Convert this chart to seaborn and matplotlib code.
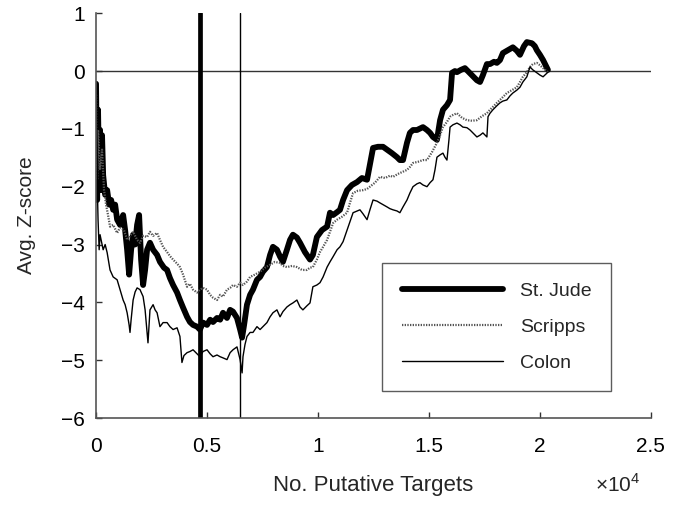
import matplotlib
matplotlib.use("Agg")
import matplotlib.pyplot as plt
import seaborn as sns
import pandas as pd

# ---- data (x in units of 10^4 putative targets) ----
stjude_x = [0.000, 0.005, 0.009, 0.014, 0.018, 0.023, 0.027, 0.032, 0.041, 0.050, 0.059, 0.068, 0.077, 0.086, 0.095,
            0.108, 0.122, 0.131, 0.140, 0.149, 0.158, 0.167, 0.176, 0.185, 0.194, 0.203, 0.212, 0.221, 0.230, 0.243,
            0.257, 0.275, 0.288, 0.306, 0.320, 0.333, 0.347, 0.365, 0.378, 0.392, 0.410, 0.423, 0.437, 0.455, 0.468,
            0.482, 0.500, 0.514, 0.527, 0.545, 0.559, 0.572, 0.590, 0.604, 0.617, 0.635, 0.649, 0.658, 0.667, 0.680,
            0.694, 0.707, 0.725, 0.739, 0.752, 0.770, 0.784, 0.797, 0.815, 0.829, 0.842, 0.860, 0.874, 0.887, 0.905,
            0.919, 0.941, 0.964, 0.977, 0.995, 1.018, 1.041, 1.054, 1.068, 1.086, 1.099, 1.113, 1.131, 1.153, 1.176,
            1.198, 1.221, 1.234, 1.248, 1.270, 1.293, 1.311, 1.333, 1.356, 1.369, 1.383, 1.401, 1.414, 1.428, 1.446,
            1.473, 1.491, 1.505, 1.518, 1.536, 1.550, 1.563, 1.581, 1.595, 1.604, 1.617, 1.626, 1.644, 1.662, 1.680,
            1.698, 1.716, 1.730, 1.743, 1.761, 1.775, 1.793, 1.806, 1.820, 1.833, 1.856, 1.878, 1.896, 1.910, 1.928,
            1.941, 1.964, 1.977, 1.986, 2.000, 2.014, 2.027, 2.036]
stjude_y = [-0.22, -2.23, -0.67, -1.88, -1.02, -2.06, -1.11, -1.80, -2.14, -2.06, -2.31, -2.23, -2.40, -2.31, -2.57,
            -2.66, -2.49, -2.75, -3.09, -3.52, -3.09, -2.83, -3.00, -2.66, -2.49, -3.26, -3.70, -3.44, -3.09, -2.97,
            -3.09, -3.18, -3.30, -3.40, -3.44, -3.58, -3.70, -3.83, -3.96, -4.09, -4.25, -4.34, -4.39, -4.42, -4.47,
            -4.35, -4.39, -4.30, -4.34, -4.27, -4.30, -4.18, -4.27, -4.13, -4.16, -4.27, -4.47, -4.61, -4.39, -4.04,
            -3.87, -3.78, -3.61, -3.56, -3.47, -3.39, -3.18, -3.04, -3.09, -3.21, -3.30, -3.09, -2.92, -2.83, -2.88,
            -2.97, -3.13, -3.26, -3.18, -2.87, -2.75, -2.69, -2.45, -2.49, -2.44, -2.40, -2.23, -2.06, -1.97, -1.92,
            -1.85, -1.88, -1.62, -1.33, -1.31, -1.31, -1.36, -1.42, -1.49, -1.54, -1.54, -1.24, -1.07, -1.02, -1.02,
            -0.97, -1.02, -1.07, -1.14, -1.19, -0.85, -0.67, -0.59, -0.50, -0.03, 0.00, -0.02, 0.02, 0.05, -0.02,
            -0.09, -0.16, -0.19, -0.07, 0.12, 0.12, 0.16, 0.14, 0.19, 0.31, 0.36, 0.41, 0.35, 0.28, 0.43,
            0.50, 0.48, 0.43, 0.36, 0.28, 0.19, 0.09, 0.02]

scripps_x = [0.000, 0.005, 0.009, 0.018, 0.027, 0.036, 0.045, 0.054, 0.063, 0.077, 0.095, 0.108, 0.126, 0.140, 0.153,
             0.167, 0.185, 0.198, 0.212, 0.230, 0.243, 0.257, 0.275, 0.288, 0.302, 0.320, 0.333, 0.347, 0.365, 0.378,
             0.392, 0.410, 0.423, 0.437, 0.455, 0.468, 0.482, 0.500, 0.514, 0.527, 0.545, 0.559, 0.572, 0.590, 0.604,
             0.617, 0.635, 0.649, 0.662, 0.680, 0.694, 0.716, 0.739, 0.761, 0.784, 0.806, 0.829, 0.842, 0.860, 0.883,
             0.905, 0.928, 0.950, 0.964, 0.977, 0.995, 1.009, 1.023, 1.041, 1.054, 1.068, 1.086, 1.108, 1.131, 1.144,
             1.158, 1.180, 1.203, 1.221, 1.234, 1.257, 1.279, 1.302, 1.324, 1.338, 1.360, 1.383, 1.401, 1.414, 1.428,
             1.450, 1.473, 1.491, 1.514, 1.536, 1.550, 1.563, 1.581, 1.595, 1.608, 1.626, 1.649, 1.671, 1.694, 1.716,
             1.739, 1.761, 1.775, 1.788, 1.806, 1.820, 1.833, 1.851, 1.874, 1.896, 1.910, 1.923, 1.941, 1.955, 1.968,
             1.986, 2.000, 2.014, 2.036]
scripps_y = [-0.41, -1.88, -1.02, -1.71, -1.36, -2.06, -2.31, -2.49, -2.69, -2.66, -2.80, -2.71, -2.75, -2.92, -2.85,
             -2.78, -2.92, -2.97, -2.85, -2.87, -2.78, -2.85, -2.80, -2.92, -3.04, -3.13, -3.20, -3.26, -3.33, -3.39,
             -3.52, -3.73, -3.68, -3.78, -3.83, -3.78, -3.75, -3.78, -3.87, -3.92, -3.96, -3.87, -3.90, -3.78, -3.75,
             -3.70, -3.73, -3.66, -3.70, -3.64, -3.56, -3.52, -3.47, -3.40, -3.35, -3.30, -3.32, -3.37, -3.39, -3.37,
             -3.39, -3.44, -3.44, -3.40, -3.39, -3.26, -3.13, -3.04, -2.92, -2.78, -2.63, -2.57, -2.52, -2.45, -2.28,
             -2.11, -2.07, -2.06, -2.04, -2.00, -1.93, -1.83, -1.85, -1.81, -1.83, -1.78, -1.74, -1.71, -1.66, -1.59,
             -1.57, -1.54, -1.54, -1.40, -1.24, -1.11, -0.97, -0.88, -0.79, -0.76, -0.73, -0.81, -0.85, -0.86, -0.85,
             -0.78, -0.73, -0.67, -0.62, -0.55, -0.50, -0.45, -0.38, -0.33, -0.28, -0.19, -0.10, -0.02, 0.07, 0.12,
             0.14, 0.10, 0.05, -0.02]

colon_x = [0.000, 0.005, 0.007, 0.009, 0.014, 0.018, 0.023, 0.032, 0.041, 0.050, 0.063, 0.077, 0.095, 0.108, 0.122,
           0.131, 0.140, 0.149, 0.153, 0.158, 0.167, 0.176, 0.185, 0.198, 0.212, 0.221, 0.230, 0.234, 0.243, 0.257,
           0.266, 0.275, 0.288, 0.302, 0.320, 0.333, 0.347, 0.365, 0.378, 0.387, 0.396, 0.410, 0.423, 0.437, 0.455,
           0.468, 0.482, 0.500, 0.514, 0.527, 0.545, 0.559, 0.572, 0.590, 0.604, 0.617, 0.635, 0.649, 0.658, 0.662,
           0.671, 0.680, 0.694, 0.707, 0.725, 0.739, 0.752, 0.770, 0.784, 0.797, 0.815, 0.829, 0.842, 0.860, 0.874,
           0.887, 0.905, 0.919, 0.932, 0.950, 0.964, 0.977, 0.995, 1.009, 1.023, 1.041, 1.054, 1.068, 1.086, 1.099,
           1.113, 1.131, 1.144, 1.158, 1.176, 1.189, 1.203, 1.221, 1.234, 1.248, 1.266, 1.279, 1.293, 1.311, 1.324,
           1.338, 1.356, 1.369, 1.383, 1.401, 1.414, 1.428, 1.446, 1.459, 1.473, 1.491, 1.505, 1.518, 1.527, 1.536,
           1.550, 1.563, 1.572, 1.581, 1.590, 1.595, 1.608, 1.626, 1.640, 1.653, 1.671, 1.685, 1.698, 1.716, 1.730,
           1.743, 1.761, 1.766, 1.775, 1.788, 1.806, 1.820, 1.833, 1.851, 1.865, 1.878, 1.896, 1.910, 1.923, 1.941,
           1.955, 1.968, 1.986, 2.000, 2.014, 2.036]
colon_y = [-0.26, -1.36, -2.23, -2.57, -3.09, -2.83, -2.92, -3.09, -3.00, -3.14, -3.44, -3.56, -3.61, -3.78, -3.96,
           -4.04, -4.18, -4.39, -4.52, -4.30, -3.96, -3.82, -3.75, -3.78, -3.90, -4.13, -4.52, -4.70, -4.13, -4.04,
           -4.13, -4.18, -4.42, -4.35, -4.35, -4.42, -4.47, -4.44, -4.59, -5.04, -4.92, -4.87, -4.85, -4.82, -4.89,
           -4.94, -4.85, -4.82, -4.89, -4.94, -4.91, -4.94, -4.96, -4.99, -4.87, -4.82, -4.77, -4.99, -5.22, -4.94,
           -4.73, -4.59, -4.52, -4.52, -4.42, -4.47, -4.42, -4.35, -4.25, -4.18, -4.13, -4.25, -4.16, -4.08, -4.04,
           -4.01, -3.96, -4.08, -4.13, -4.06, -4.01, -3.73, -3.70, -3.66, -3.56, -3.39, -3.30, -3.21, -3.09, -3.04,
           -2.95, -2.75, -2.61, -2.45, -2.42, -2.40, -2.47, -2.57, -2.40, -2.23, -2.25, -2.28, -2.31, -2.35, -2.38,
           -2.40, -2.42, -2.45, -2.35, -2.23, -2.11, -2.00, -1.95, -1.93, -1.97, -2.00, -1.93, -1.88, -1.71, -1.49,
           -1.45, -1.42, -1.49, -1.54, -1.19, -0.97, -0.93, -0.90, -0.93, -0.97, -0.98, -1.02, -1.07, -1.14, -1.11,
           -1.07, -1.14, -0.79, -0.73, -0.67, -0.60, -0.55, -0.52, -0.50, -0.43, -0.38, -0.33, -0.28, -0.19, -0.10,
           0.07, 0.02, -0.03, -0.07, -0.10, -0.02]

series_names = ["St. Jude", "Scripps", "Colon"]
thick_cutoff = 0.468   # thick vertical marker (x10^4)
thin_cutoff = 0.649    # thin vertical marker (x10^4)

x_ticks = [0, 0.5, 1, 1.5, 2, 2.5]
x_ticklabels = ["0", "0.5", "1", "1.5", "2", "2.5"]
y_ticks = [-6, -5, -4, -3, -2, -1, 0, 1]
y_ticklabels = ["\u22126", "\u22125", "\u22124", "\u22123", "\u22122", "\u22121", "0", "1"]

# ---- build long table ----
df = pd.concat([
    pd.DataFrame({"x": stjude_x, "y": stjude_y, "set": series_names[0]}),
    pd.DataFrame({"x": scripps_x, "y": scripps_y, "set": series_names[1]}),
    pd.DataFrame({"x": colon_x, "y": colon_y, "set": series_names[2]}),
], ignore_index=True)

sns.set_theme(style="white")
plt.rcParams["font.family"] = ["Liberation Sans", "DejaVu Sans"]
plt.rcParams["mathtext.fontset"] = "custom"
plt.rcParams["mathtext.rm"] = "Liberation Sans"

fig = plt.figure(figsize=(6.91, 5.07), dpi=100)
ax = fig.add_axes([0.139, 0.1755, 0.803, 0.7985])

styles = {
    "St. Jude": dict(color="black", linewidth=4.2, linestyle="-"),
    "Scripps": dict(color="#555555", linewidth=1.6, linestyle=(0, (0.6, 0.6))),
    "Colon": dict(color="black", linewidth=1.0, linestyle="-"),
}
for name in series_names:
    sub = df[df["set"] == name]
    sns.lineplot(data=sub, x="x", y="y", ax=ax, sort=False, estimator=None,
                 label=name, **styles[name])

ax.axhline(0, color="#333333", linewidth=1.0, zorder=1)
ax.axvline(thick_cutoff, color="black", linewidth=3.4, zorder=1)
ax.axvline(thin_cutoff, color="black", linewidth=1.0, zorder=1)

ax.set_xlim(0, 2.5)
ax.set_ylim(-6, 1)
ax.set_xticks(x_ticks)
ax.set_xticklabels(x_ticklabels)
ax.set_yticks(y_ticks)
ax.set_yticklabels(y_ticklabels)
ax.tick_params(direction="in", length=4, width=1, colors="#333333", labelsize=15,
               labelcolor="black", bottom=True, left=True)
ax.tick_params(axis="x", pad=14)
ax.tick_params(axis="y", pad=8)
for s in ["top", "right"]:
    ax.spines[s].set_visible(False)
for s in ["left", "bottom"]:
    ax.spines[s].set_color("#555555")
    ax.spines[s].set_linewidth(1.2)

ax.set_xlabel("No. Putative Targets", fontsize=16, labelpad=13)
ax.set_ylabel("Avg. Z-score", fontsize=15, labelpad=18)
ax.text(0.94, -0.165, "\u00d710$^4$", transform=ax.transAxes, fontsize=15,
        ha="center", va="center")

leg = ax.legend(loc="center", bbox_to_anchor=(0.722, 0.225), fontsize=14,
                frameon=True, fancybox=False, edgecolor="#333333",
                handlelength=5.2, handletextpad=0.9, labelspacing=0.95,
                borderpad=1.0, borderaxespad=0)
leg.get_frame().set_linewidth(1.0)

fig.savefig("out.png", dpi=100)
